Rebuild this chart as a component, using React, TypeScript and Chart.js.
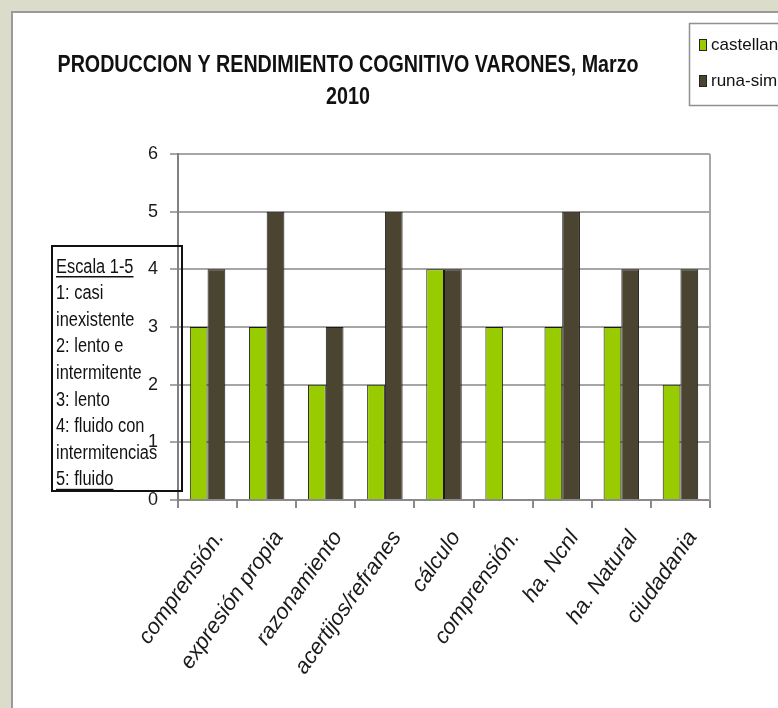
import React, { useEffect, useRef } from "react";
import { Chart, registerables } from "chart.js";

Chart.register(...registerables);

const categories = [
  "comprensión.",
  "expresión propia",
  "razonamiento",
  "acertijos/refranes",
  "cálculo",
  "comprensión.",
  "ha. Ncnl",
  "ha. Natural",
  "ciudadania",
];
const castellano = [3, 3, 2, 2, 4, 3, 3, 3, 2];
const runaSimi = [4, 5, 3, 5, 4, null, 5, 4, 4];
const seriesNames = ["castellano", "runa-simi"];
const seriesColors = ["#99cc00", "#4b4430"];
const titleLines = ["PRODUCCION Y RENDIMIENTO COGNITIVO VARONES, Marzo", "2010"];
const scaleNotes = [
  "Escala 1-5",
  "1: casi",
  "inexistente",
  "2: lento e",
  "intermitente",
  "3: lento",
  "4: fluido con",
  "intermitencias",
  "5: fluido",
];
const yMin = 0;
const yMax = 6;
const yStep = 1;

const SANS = "'Liberation Sans', Arial, sans-serif";
const NARROW_X = 0.82;

function narrowText(ctx: any, text: string, x: number, y: number, align: string) {
  ctx.save();
  ctx.translate(x, y);
  ctx.scale(NARROW_X, 1);
  ctx.textAlign = align;
  ctx.fillText(text, 0, 0);
  const w = ctx.measureText(text).width * NARROW_X;
  ctx.restore();
  return w;
}

const decorPlugin = {
  id: "decor",
  beforeDraw(chart: any) {
    const { ctx, width, height } = chart;
    ctx.save();
    ctx.fillStyle = "#dcdcca";
    ctx.fillRect(0, 0, width, height);
    ctx.fillStyle = "#ffffff";
    ctx.fillRect(12, 12, width - 12, height - 12);
    ctx.strokeStyle = "#9a9a9a";
    ctx.lineWidth = 2;
    ctx.beginPath();
    ctx.moveTo(12, height);
    ctx.lineTo(12, 12);
    ctx.lineTo(width, 12);
    ctx.stroke();
    ctx.restore();
  },
  afterDraw(chart: any) {
    const { ctx, chartArea } = chart;
    ctx.save();
    // right border of plot area
    ctx.strokeStyle = "#a8a8a8";
    ctx.lineWidth = 2;
    ctx.beginPath();
    ctx.moveTo(chartArea.right, chartArea.top);
    ctx.lineTo(chartArea.right, chartArea.bottom);
    ctx.stroke();

    // title
    ctx.fillStyle = "#111";
    ctx.font = `bold 24px ${SANS}`;
    ctx.textBaseline = "middle";
    narrowText(ctx, titleLines[0], 348, 65, "center");
    narrowText(ctx, titleLines[1], 348, 97, "center");

    // legend
    ctx.strokeStyle = "#909090";
    ctx.lineWidth = 1.5;
    ctx.strokeRect(689.5, 23.5, 140, 82);
    ctx.font = `17px ${SANS}`;
    ctx.textAlign = "left";
    const ds = chart.data.datasets;
    ds.forEach((d: any, i: number) => {
      const cy = 45 + i * 36;
      ctx.fillStyle = d.backgroundColor;
      ctx.fillRect(699, cy - 6, 8, 12);
      ctx.strokeStyle = "#222";
      ctx.lineWidth = 1;
      ctx.strokeRect(699.5, cy - 5.5, 7, 11);
      ctx.fillStyle = "#111";
      ctx.fillText(d.label, 711, cy);
    });

    // scale note box
    ctx.strokeStyle = "#111";
    ctx.lineWidth = 2;
    ctx.strokeRect(52, 246, 130, 245);
    ctx.font = `20px ${SANS}`;
    ctx.fillStyle = "#111";
    ctx.textBaseline = "middle";
    scaleNotes.forEach((line, i) => {
      const y = 267 + i * 26.6;
      const w = narrowText(ctx, line, 56, y, "left");
      if (i === 0 || i === scaleNotes.length - 1) {
        ctx.fillRect(56, y + 9, w, 1.5);
      }
    });
    ctx.restore();
  },
};

export default function App() {
  const ref = useRef<HTMLCanvasElement>(null);
  useEffect(() => {
    if (!ref.current) return;
    const chart = new Chart(ref.current, {
      type: "bar",
      data: {
        labels: categories,
        datasets: [
          {
            label: seriesNames[0],
            data: castellano,
            backgroundColor: seriesColors[0],
            borderColor: "#1a1a1a",
            borderWidth: 1,
            categoryPercentage: 0.6,
            barPercentage: 1,
          },
          {
            label: seriesNames[1],
            data: runaSimi,
            backgroundColor: seriesColors[1],
            borderColor: "#1a1a1a",
            borderWidth: 1,
            categoryPercentage: 0.6,
            barPercentage: 1,
          },
        ],
      },
      options: {
        responsive: false,
        animation: false,
        devicePixelRatio: 1,
        layout: { padding: { top: 154, right: 68, left: 0, bottom: 0 } },
        plugins: {
          legend: { display: false },
          title: { display: false },
          tooltip: { enabled: false },
        },
        scales: {
          x: {
            grid: {
              display: true,
              drawOnChartArea: false,
              drawTicks: true,
              tickLength: 8,
              color: "#8a8a8a",
              lineWidth: 2,
              offset: true,
            },
            border: { display: true, color: "#8a8a8a", width: 2 },
            ticks: {
              minRotation: 55,
              maxRotation: 55,
              autoSkip: false,
              padding: 18,
              labelOffset: 12,
              color: "#1a1a1a",
              font: { family: SANS, size: 22, style: "italic" },
            },
            afterFit(scale: any) {
              scale.height = 208;
              scale.paddingLeft = 0;
              scale.paddingRight = 0;
            },
          },
          y: {
            min: yMin,
            max: yMax,
            ticks: {
              stepSize: yStep,
              padding: 12,
              color: "#1a1a1a",
              font: { family: SANS, size: 18 },
            },
            grid: { color: "#a6a6a6", lineWidth: 2, tickLength: 8 },
            border: { display: true, color: "#808080", width: 2 },
            afterFit(scale: any) {
              scale.width = 178;
              scale.paddingTop = 0;
              scale.paddingBottom = 0;
            },
          },
        },
      },
      plugins: [decorPlugin],
    });
    return () => chart.destroy();
  }, []);
  return (
    <div style={{ position: "absolute", left: 0, top: 0, width: 778, height: 708 }}>
      <canvas ref={ref} width={778} height={708} style={{ display: "block" }} />
    </div>
  );
}
